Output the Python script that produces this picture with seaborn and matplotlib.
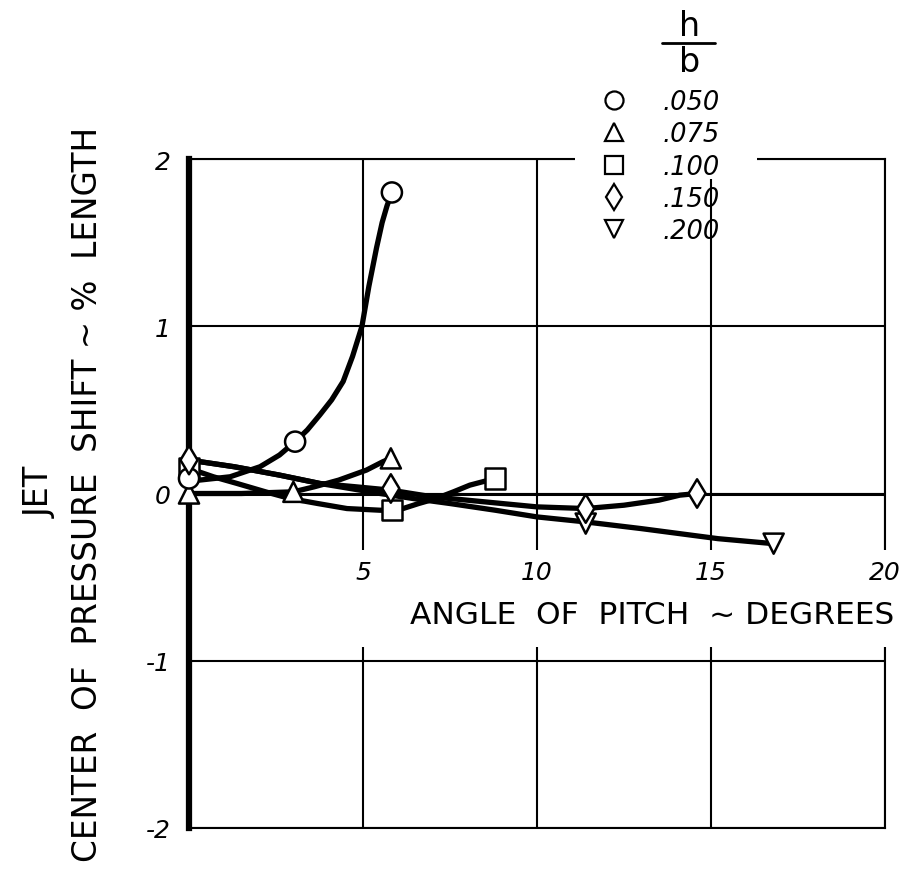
import numpy as np
import pandas as pd
import matplotlib
matplotlib.use("Agg")
import matplotlib.pyplot as plt
import seaborn as sns
from matplotlib.lines import Line2D
from matplotlib.patches import Rectangle

# ---------------- data ----------------
ratios = [".050", ".075", ".100", ".150", ".200"]

# measured points (angle of pitch in degrees, c.p. shift in % length)
pts_050_x = [0.0, 3.05, 5.83]
pts_050_y = [0.09, 0.31, 1.80]
pts_075_x = [0.0, 3.0, 5.8]
pts_075_y = [0.0, 0.01, 0.21]
pts_100_x = [0.0, 5.83, 8.8]
pts_100_y = [0.15, -0.10, 0.09]
pts_150_x = [0.0, 5.8, 11.4, 14.6]
pts_150_y = [0.20, 0.03, -0.09, 0.0]
pts_200_x = [11.4, 16.8]
pts_200_y = [-0.18, -0.30]

# faired curves
crv_050_x = [0.0, 0.3, 1.18, 2.04, 2.6, 3.05, 3.4, 3.76, 4.1, 4.43, 4.7, 4.97, 5.17, 5.39, 5.55, 5.69, 5.83]
crv_050_y = [0.09, 0.08, 0.10, 0.16, 0.23, 0.31, 0.38, 0.47, 0.56, 0.67, 0.82, 1.00, 1.24, 1.47, 1.62, 1.72, 1.80]
crv_075_x = [0.0, 1.5, 3.0, 3.6, 4.3, 5.1, 5.57, 5.8]
crv_075_y = [0.0, 0.0, 0.01, 0.04, 0.08, 0.14, 0.19, 0.21]
crv_100_x = [0.0, 0.7, 1.38, 2.2, 2.9, 3.7, 4.54, 5.49, 5.83, 6.15, 6.6, 7.1, 7.6, 8.07, 8.8]
crv_100_y = [0.15, 0.10, 0.06, 0.01, -0.03, -0.06, -0.09, -0.10, -0.10, -0.09, -0.06, -0.03, 0.01, 0.05, 0.09]
crv_150_x = [0.0, 1.3, 2.6, 3.76, 4.8, 5.8, 7.0, 8.5, 10.0, 11.4, 12.5, 13.5, 14.1, 14.6]
crv_150_y = [0.20, 0.16, 0.11, 0.06, 0.04, 0.02, -0.02, -0.05, -0.08, -0.09, -0.07, -0.04, -0.01, 0.0]
crv_200_x = [0.0, 1.3, 2.6, 3.76, 5.49, 6.44, 7.5, 8.8, 10.0, 11.4, 13.0, 15.2, 16.8]
crv_200_y = [0.20, 0.16, 0.11, 0.06, 0.0, -0.03, -0.06, -0.10, -0.14, -0.17, -0.21, -0.27, -0.30]

xtick_vals = [5, 10, 15, 20]
xtick_labels = ["5", "10", "15", "20"]
ytick_vals = [-2, -1, 0, 1, 2]
ytick_labels = ["-2", "-1", "0", "1", "2"]

# ---------------- build tables ----------------
pts = {".050": (pts_050_x, pts_050_y), ".075": (pts_075_x, pts_075_y),
       ".100": (pts_100_x, pts_100_y), ".150": (pts_150_x, pts_150_y),
       ".200": (pts_200_x, pts_200_y)}
crv = {".050": (crv_050_x, crv_050_y), ".075": (crv_075_x, crv_075_y),
       ".100": (crv_100_x, crv_100_y), ".150": (crv_150_x, crv_150_y),
       ".200": (crv_200_x, crv_200_y)}

draw_order = [".200", ".100", ".075", ".050", ".150"]
df_pts = pd.concat([pd.DataFrame({"angle": pts[r][0], "shift": pts[r][1], "ratio": r})
                    for r in draw_order], ignore_index=True)
df_crv = pd.concat([pd.DataFrame({"angle": crv[r][0], "shift": crv[r][1], "ratio": r})
                    for r in ratios], ignore_index=True)

marker_map = {".050": "o", ".075": "^", ".100": "s", ".150": "d", ".200": "v"}

# ---------------- figure ----------------
sns.set_theme(style="white")
plt.rcParams["font.family"] = ["DejaVu Sans"]
plt.rcParams["text.color"] = "black"
plt.rcParams["axes.labelcolor"] = "black"
plt.rcParams["xtick.color"] = "black"
plt.rcParams["ytick.color"] = "black"

W, H = 914, 887
fig = plt.figure(figsize=(W / 100, H / 100), dpi=100)
ax = fig.add_axes([189 / W, (H - 829) / H, 696 / W, 669 / H])

ax.set_xlim(0, 20)
ax.set_ylim(-2, 2)
ax.set_xticks([0] + xtick_vals)
ax.set_yticks(ytick_vals)
ax.set_yticklabels(ytick_labels, fontsize=18, style="italic", color="black")
ax.set_xticklabels([])
ax.tick_params(length=0, pad=13)
ax.set_axisbelow(True)
ax.grid(True, color="black", lw=1.5)
ax.axhline(0, color="black", lw=2.2, zorder=1)

for s in ["top", "right", "bottom"]:
    ax.spines[s].set_color("black")
    ax.spines[s].set_linewidth(1.5)
ax.spines["left"].set_color("black")
ax.spines["left"].set_linewidth(4.5)

# curves
sns.lineplot(data=df_crv, x="angle", y="shift", units="ratio", estimator=None,
             sort=False, color="black", lw=3.8, legend=False, ax=ax, zorder=3)
# measured points
sns.scatterplot(data=df_pts, x="angle", y="shift", style="ratio", markers=marker_map,
                style_order=ratios, s=210, color="white", edgecolor="black",
                linewidth=1.8, legend=False, ax=ax, zorder=4, clip_on=False)
ax.set_xlabel("")
ax.set_ylabel("")

# white band behind x tick labels / axis title
ax.add_patch(Rectangle((4.3, -0.92), 16.4, 0.58, facecolor="white", edgecolor="none",
                       zorder=2.6, clip_on=False))
for v, t in zip(xtick_vals, xtick_labels):
    ax.text(v, -0.47, t, ha="center", va="center", fontsize=18, style="italic",
            color="black", zorder=5)
ax.text(13.3, -0.725, "ANGLE  OF  PITCH  ~ DEGREES", ha="center", va="center",
        fontsize=22.5, color="black", zorder=5)

# y-axis titles
fig.text(88 / W, 1 - 494 / H, "CENTER  OF  PRESSURE  SHIFT ~ %  LENGTH", rotation=90,
         ha="center", va="center", fontsize=23.5, color="black")
fig.text(40 / W, 1 - 492 / H, "JET", rotation=90, ha="center", va="center",
         fontsize=24, color="black")

# legend (mask the top border behind it)
ax.add_patch(Rectangle((0.555, 0.97), 0.261, 0.06, transform=ax.transAxes,
                       facecolor="white", edgecolor="none", zorder=2.6, clip_on=False))
handles = [Line2D([], [], ls="", marker=marker_map[r], mfc="white", mec="black",
                  mew=1.6, ms=13) for r in ratios]
leg = ax.legend(handles, ratios, loc="upper left", bbox_to_anchor=(0.592, 1.105),
                frameon=False, prop={"size": 18.5, "style": "italic"}, handlelength=1.0,
                handletextpad=1.4, labelspacing=0.25, borderpad=0, borderaxespad=0)
for t in leg.get_texts():
    t.set_color("black")
fig.text(690 / W, 1 - 26 / H, "h", ha="center", va="center", fontsize=24, color="black")
fig.text(690 / W, 1 - 63 / H, "b", ha="center", va="center", fontsize=24, color="black")
fig.add_artist(Line2D([662 / W, 715 / W], [1 - 44 / H, 1 - 44 / H], color="black", lw=2,
                      transform=fig.transFigure))

fig.savefig("out.png", dpi=100)
